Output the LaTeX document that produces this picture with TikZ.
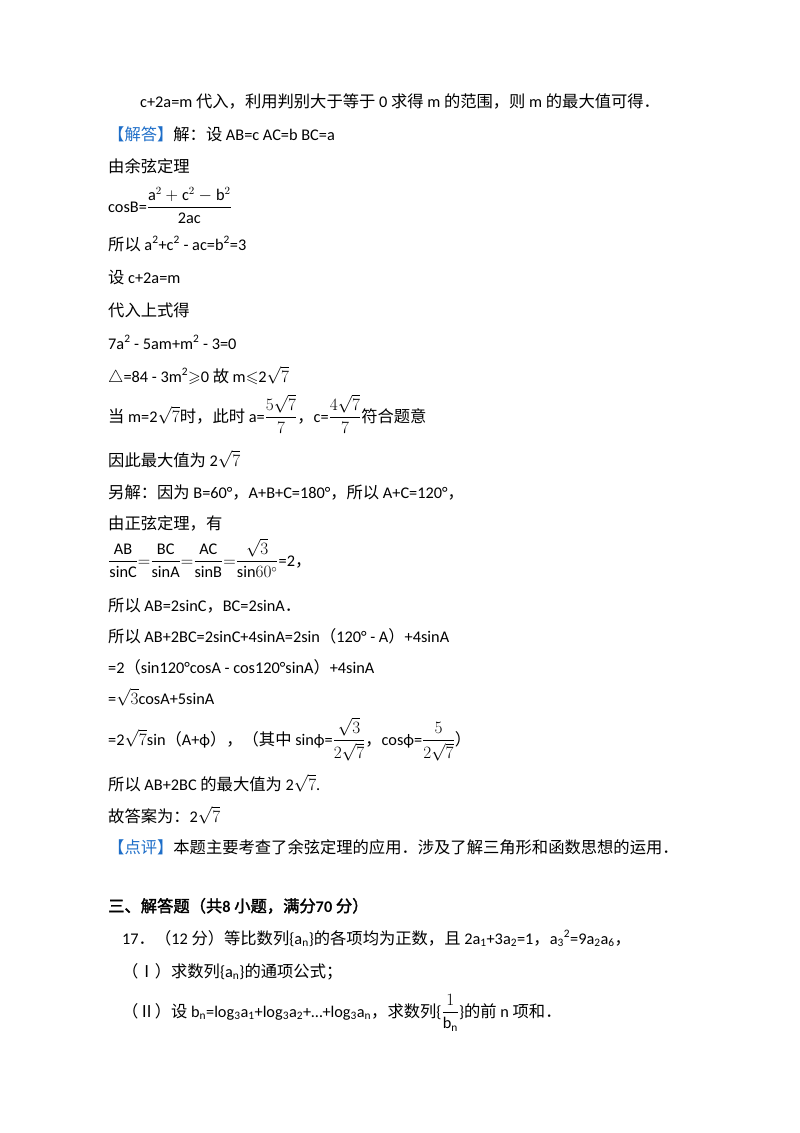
\documentclass[tikz,border=0pt]{standalone}
\usepackage{amsmath,amssymb}
\usepackage{fontspec}
\setmainfont{Carlito}
\newfontfamily\cjk{Noto Sans CJK SC}
\newfontfamily\cjkb{Noto Sans CJK SC}[FakeBold=2]
\definecolor{hdblue}{RGB}{30,110,200}
\newcommand{\C}[1]{{\cjk #1}}
\newcommand{\su}[1]{\textsuperscript{#1}}
\newcommand{\sub}[1]{\textsubscript{#1}}
\begin{document}
\begin{tikzpicture}[x=1pt,y=-1pt,
  ln/.style={anchor=base west,inner sep=0pt,font=\fontsize{16.3}{19}\selectfont}]
\useasboundingbox (0,0) rectangle (800,1133);
\node[ln] (l1) at (140,107) {c+2a=m \C{代入，利用判别大于等于} 0 \C{求得} m \C{的范围，则} m \C{的最大值可得．}};
\node[ln] (l2) at (108,140) {\textcolor{hdblue}{\C{【解答】}}\C{解：设} AB=c AC=b BC=a};
\node[ln] (l3) at (108,172) {\C{由余弦定理}};
\node[ln] (l4) at (108,212) {cosB=$\dfrac{\mathrm{a}^2+\mathrm{c}^2-\mathrm{b}^2}{\mathrm{2ac}}$};
\node[ln] (l5) at (108,250) {\C{所以} a\su{2}+c\su{2} - ac=b\su{2}=3};
\node[ln] (l6) at (108,283) {\C{设} c+2a=m};
\node[ln] (l7) at (108,316) {\C{代入上式得}};
\node[ln] (l8) at (108,349) {7a\su{2} - 5am+m\su{2} - 3=0};
\node[ln] (l9) at (108,382) {$\triangle$=84 - 3m\su{2}$\geqslant$0 \C{故} m$\leqslant$2$\sqrt{7}$};
\node[ln] (l10) at (108,422) {\C{当} m=2$\sqrt{7}$\C{时，此时} a=$\dfrac{5\sqrt{7}}{7}$\C{，}c=$\dfrac{4\sqrt{7}}{7}$\C{符合题意}};
\node[ln] (l11) at (108,466) {\C{因此最大值为} 2$\sqrt{7}$};
\node[ln] (l12) at (108,498) {\C{另解：因为} B=60°\C{，}A+B+C=180°\C{，所以} A+C=120°\C{，}};
\node[ln] (l13) at (108,529) {\C{由正弦定理，有}};
\node[ln] (l14) at (108,566) {$\dfrac{\mathrm{AB}}{\mathrm{sinC}}{=}\dfrac{\mathrm{BC}}{\mathrm{sinA}}{=}\dfrac{\mathrm{AC}}{\mathrm{sinB}}{=}\dfrac{\sqrt{3}}{\mathrm{sin}60^\circ}$=2\C{，}};
\node[ln] (l15) at (108,611) {\C{所以} AB=2sinC\C{，}BC=2sinA\C{．}};
\node[ln] (l16) at (108,642) {\C{所以} AB+2BC=2sinC+4sinA=2sin\C{（}120° - A\C{）}+4sinA};
\node[ln] (l17) at (108,673) {=2\C{（}sin120°cosA - cos120°sinA\C{）}+4sinA};
\node[ln] (l18) at (108,704) {=$\sqrt{3}$cosA+5sinA};
\node[ln] (l19) at (108,745) {=2$\sqrt{7}$sin\C{（}A+ϕ\C{），（其中} sinϕ=$\dfrac{\sqrt{3}}{2\sqrt{7}}$\C{，}cosϕ=$\dfrac{5}{2\sqrt{7}}$\C{）}};
\node[ln] (l20) at (108,790) {\C{所以} AB+2BC \C{的最大值为} 2$\sqrt{7}$.};
\node[ln] (l21) at (108,822) {\C{故答案为：}2$\sqrt{7}$};
\node[ln] (l22) at (108,853) {\textcolor{hdblue}{\C{【点评】}}\C{本题主要考查了余弦定理的应用．涉及了解三角形和函数思想的运用．}};
\node[ln] (l23) at (108,912) {\cjkb 三、解答题（共\textbf{\fontspec{Carlito} 8 }小题，满分\textbf{\fontspec{Carlito} 70 }分）};
\node[ln] (l24) at (122,944) {17\C{．（}12 \C{分）等比数列}\{a\sub{n}\}\C{的各项均为正数，且} 2a\sub{1}+3a\sub{2}=1\C{，}a\sub{3}\su{2}=9a\sub{2}a\sub{6}\C{，}};
\node[ln] (l25) at (122,977) {\C{（Ⅰ）求数列}\{a\sub{n}\}\C{的通项公式；}};
\node[ln] (l26) at (122,1017) {\C{（Ⅱ）设} b\sub{n}=log\sub{3}a\sub{1}+log\sub{3}a\sub{2}+…+log\sub{3}a\sub{n}\C{，求数列}\{$\dfrac{1}{\mathrm{b_n}}$\}\C{的前} n \C{项和．}};
\end{tikzpicture}
\end{document}
